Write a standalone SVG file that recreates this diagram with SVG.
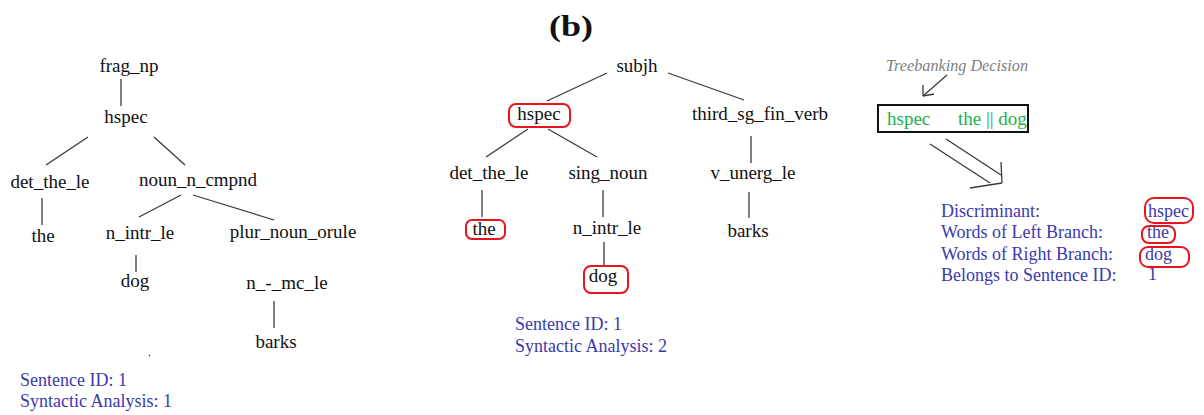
<svg xmlns="http://www.w3.org/2000/svg" width="1204" height="415" viewBox="0 0 1204 415">
<style>
.t{font-family:"Liberation Serif","Times New Roman",serif;font-size:19px;fill:#111;text-anchor:middle}
.b{font-family:"Liberation Serif","Times New Roman",serif;font-size:18px;fill:#3a3aac}
.g{font-family:"Liberation Serif","Times New Roman",serif;font-size:19px;fill:#22b14c}
.e line{stroke:#3a3a3a;stroke-width:1.3}
.r{fill:none;stroke:#e8141c;stroke-width:2}
</style>
<rect width="1204" height="415" fill="#fff"/>
<text x="549" y="36" font-family="Liberation Serif,serif" font-weight="bold" font-size="30" fill="#111" textLength="44" lengthAdjust="spacingAndGlyphs">(b)</text>

<g id="connectors" class="e">
<!-- left tree -->
<line x1="121" y1="79" x2="121" y2="106"/>
<line x1="88" y1="137" x2="46" y2="165"/>
<line x1="154" y1="137" x2="185" y2="165"/>
<line x1="42" y1="198" x2="42" y2="225"/>
<line x1="181" y1="195" x2="139" y2="217"/>
<line x1="193" y1="195" x2="274" y2="220"/>
<line x1="136" y1="255" x2="136" y2="272"/>
<line x1="274" y1="301" x2="274" y2="328"/>
<line x1="149" y1="356" x2="150" y2="355" stroke="#888"/>
<!-- middle tree -->
<line x1="607" y1="73" x2="547" y2="101"/>
<line x1="668" y1="73" x2="744" y2="100"/>
<line x1="528" y1="129" x2="486" y2="157"/>
<line x1="548" y1="129" x2="597" y2="157"/>
<line x1="751" y1="136" x2="751" y2="163"/>
<line x1="482" y1="190" x2="482" y2="217"/>
<line x1="603" y1="190" x2="603" y2="217"/>
<line x1="604" y1="242" x2="604" y2="265"/>
<line x1="749" y1="192" x2="749" y2="218"/>
<!-- decision arrow -->
<line x1="947" y1="75" x2="923" y2="96" stroke="#222"/>
<line x1="923" y1="96" x2="923" y2="85" stroke="#222"/>
<line x1="923" y1="96" x2="934" y2="94" stroke="#222"/>
<!-- double arrow -->
<line x1="930" y1="144" x2="990" y2="183" stroke="#777"/>
<line x1="946" y1="139" x2="1001" y2="175" stroke="#777"/>
<line x1="1001" y1="162" x2="1002" y2="183" stroke="#777"/>
<line x1="970" y1="188" x2="1002" y2="183" stroke="#777"/>
</g>

<g id="tree1">
<text class="t" x="129" y="72">frag_np</text>
<text class="t" x="126" y="123">hspec</text>
<text class="t" x="50" y="188">det_the_le</text>
<text class="t" x="198" y="186">noun_n_cmpnd</text>
<text class="t" x="43" y="242">the</text>
<text class="t" x="140" y="239">n_intr_le</text>
<text class="t" x="293" y="238">plur_noun_orule</text>
<text class="t" x="135" y="287">dog</text>
<text class="t" x="287" y="289">n_-_mc_le</text>
<text class="t" x="276" y="348">barks</text>
<text class="b" x="20" y="386">Sentence ID: 1</text>
<text class="b" x="20" y="407">Syntactic Analysis: 1</text>
</g>

<g id="tree2">
<text class="t" x="637" y="72">subjh</text>
<rect class="r" x="509" y="104" width="61" height="23" rx="7"/>
<text class="t" x="539" y="120">hspec</text>
<text class="t" x="760" y="120">third_sg_fin_verb</text>
<text class="t" x="489" y="179">det_the_le</text>
<text class="t" x="608" y="179">sing_noun</text>
<text class="t" x="753" y="179">v_unerg_le</text>
<rect class="r" x="466" y="220" width="39" height="19" rx="6"/>
<text class="t" x="484" y="235">the</text>
<text class="t" x="607" y="234">n_intr_le</text>
<text class="t" x="748" y="237">barks</text>
<rect class="r" x="584" y="266" width="44" height="27" rx="7"/>
<text class="t" x="603" y="282">dog</text>
<text class="b" x="515" y="330">Sentence ID: 1</text>
<text class="b" x="515" y="352">Syntactic Analysis: 2</text>
</g>

<g id="decision">
<text x="886" y="71" font-family="Liberation Serif,serif" font-style="italic" font-size="16" fill="#808080" textLength="142" lengthAdjust="spacingAndGlyphs">Treebanking Decision</text>
<rect x="878" y="105" width="150" height="27" fill="#fff" stroke="#111" stroke-width="2"/>
<text class="g" x="887" y="125">hspec</text>
<text class="g" x="958" y="125">the || dog</text>
</g>

<g id="discriminant">
<text class="b" x="941" y="217">Discriminant:</text>
<text class="b" x="941" y="238">Words of Left Branch:</text>
<text class="b" x="941" y="260">Words of Right Branch:</text>
<text class="b" x="941" y="281">Belongs to Sentence ID:</text>
<text class="b" x="1148" y="217">hspec</text>
<text class="b" x="1147" y="238">the</text>
<text class="b" x="1145" y="260">dog</text>
<text class="b" x="1148" y="280">1</text>
<rect class="r" x="1145" y="198" width="48" height="25" rx="9"/>
<rect class="r" x="1142" y="226" width="33" height="17" rx="7"/>
<rect class="r" x="1140" y="247" width="49" height="20" rx="8"/>
</g>
</svg>
